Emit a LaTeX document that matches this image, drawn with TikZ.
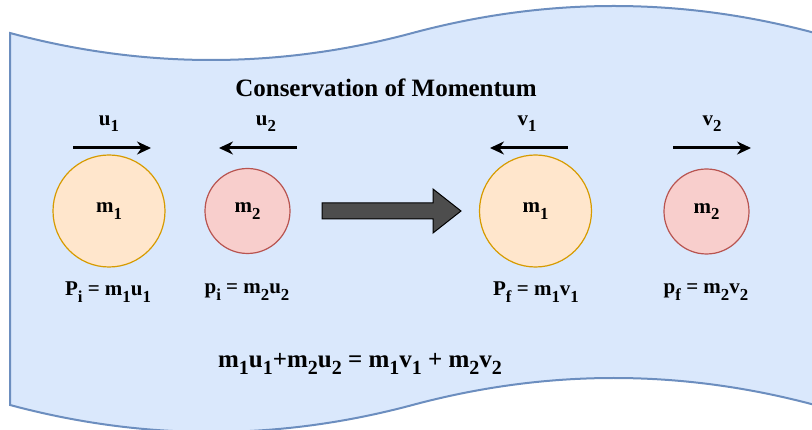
\documentclass[tikz,border=0pt]{standalone}
\usepackage{fontspec}
\setmainfont{Liberation Serif}
\usetikzlibrary{arrows.meta}

\definecolor{tapefill}{HTML}{DAE8FC}
\definecolor{tapeline}{HTML}{6C8EBF}
\definecolor{bigfill}{HTML}{FFE6CC}
\definecolor{bigline}{HTML}{D79B00}
\definecolor{smallfill}{HTML}{F8CECC}
\definecolor{smallline}{HTML}{B85450}
\definecolor{shiftfill}{HTML}{4D4D4D}

\newcommand{\dn}[1]{\raisebox{-0.3em}{\scalebox{0.8}{#1}}}

\begin{document}
\begin{tikzpicture}[
    x=1pt, y=-1pt,
    tape/.style={
        draw=tapeline,
        line width=2pt,
        fill=tapefill
    },
    heavy/.style={
        circle,
        draw=bigline,
        line width=1.2pt,
        fill=bigfill,
        inner sep=0pt,
        minimum size=112pt,
        font=\fontsize{21}{25}\selectfont\bfseries
    },
    light/.style={
        circle,
        draw=smallline,
        line width=1.2pt,
        fill=smallfill,
        inner sep=0pt,
        minimum size=85pt,
        font=\fontsize{21}{25}\selectfont\bfseries
    },
    lbl/.style={
        font=\fontsize{21}{25}\selectfont\bfseries,
        inner sep=0pt
    },
    big/.style={
        font=\fontsize{25}{30}\selectfont\bfseries,
        inner sep=0pt
    },
    vel/.style={
        -{Stealth[length=14pt,width=13pt]},
        line width=3pt
    }
]

    \useasboundingbox (0,0) rectangle (812,430);

    \draw[tape] (10,33) .. controls (144.2,69) and (278.3,69) .. (412.5,33)
        .. controls (546.7,-3) and (680.8,-3) .. (815,33) -- (815,405)
        .. controls (680.8,369) and (546.7,369) .. (412.5,405)
        .. controls (278.3,441) and (144.2,441) .. (10,405) -- cycle;

    \node[big] (title) at (386,88) {Conservation of Momentum};

    \node[heavy] (m1a) at (109,211) {m\dn{1}};
    \node[light] (m2a) at (247.5,211) {m\dn{2}};
    \node[heavy] (m1b) at (535.5,211) {m\dn{1}};
    \node[light] (m2b) at (706.5,211.5) {m\dn{2}};

    \node[lbl] (u1) at (109,124) {u\dn{1}};
    \node[lbl] (u2) at (266,124) {u\dn{2}};
    \node[lbl] (v1) at (527,124) {v\dn{1}};
    \node[lbl] (v2) at (712,124) {v\dn{2}};

    \coordinate (u1s) at (73,148);
    \coordinate (u1e) at (151,148);
    \coordinate (u2s) at (297,148);
    \coordinate (u2e) at (219,148);
    \coordinate (v1s) at (568,148);
    \coordinate (v1e) at (490,148);
    \coordinate (v2s) at (673,148);
    \coordinate (v2e) at (751,148);

    \draw[vel] (u1s) -- (u1e);
    \draw[vel] (u2s) -- (u2e);
    \draw[vel] (v1s) -- (v1e);
    \draw[vel] (v2s) -- (v2e);

    \node[lbl] (pi1) at (108,292) {P\dn{i} = m\dn{1}u\dn{1}};
    \node[lbl] (pi2) at (247,292) {p\dn{i} = m\dn{2}u\dn{2}};
    \node[lbl] (pf1) at (536,292) {P\dn{f} = m\dn{1}v\dn{1}};
    \node[lbl] (pf2) at (706,292) {p\dn{f} = m\dn{2}v\dn{2}};

    \filldraw[fill=shiftfill, draw=black, line width=1pt]
        (322,203) -- (433,203) -- (433,189) -- (461,211) -- (433,233)
        -- (433,219) -- (322,219) -- cycle;

    \node[big] (law) at (360,364) {m\dn{1}u\dn{1}+m\dn{2}u\dn{2} = m\dn{1}v\dn{1} + m\dn{2}v\dn{2}};

\end{tikzpicture}
\end{document}
